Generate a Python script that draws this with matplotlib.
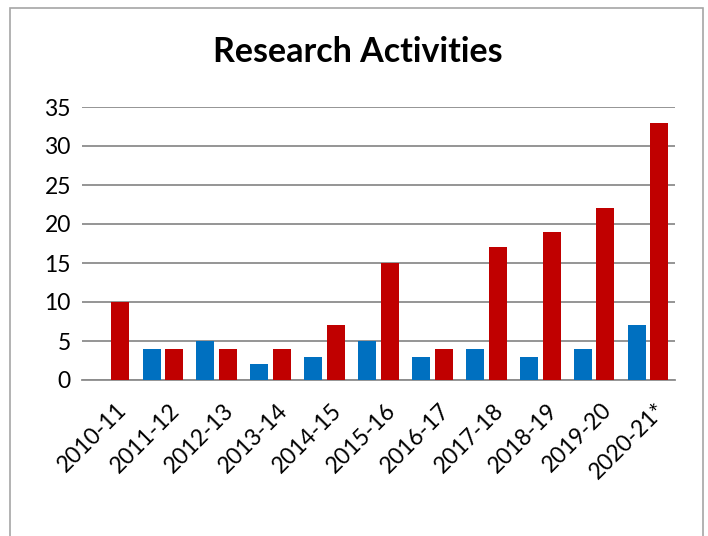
import matplotlib
matplotlib.use("Agg")
import matplotlib.pyplot as plt
import numpy as np
from matplotlib.patches import Rectangle

plt.rcParams['font.family'] = ['Lato', 'DejaVu Sans']

categories = ["2010-11", "2011-12", "2012-13", "2013-14", "2014-15", "2015-16",
              "2016-17", "2017-18", "2018-19", "2019-20", "2020-21*"]
blue_values = [0, 4, 5, 2, 3, 5, 3, 4, 3, 4, 7]
red_values = [10, 4, 4, 4, 7, 15, 4, 17, 19, 22, 33]
yticks = [0, 5, 10, 15, 20, 25, 30, 35]

W, H = 708, 536
fig = plt.figure(figsize=(W / 100, H / 100), dpi=100)
fig.patch.set_facecolor('white')

# outer chart frame (bottom edge beyond image)
fig.patches.append(Rectangle((10 / W, -0.05), (703 - 10) / W, 1.05 - 8 / H,
                             transform=fig.transFigure, fill=False,
                             edgecolor='#A6A6A6', linewidth=1.2))

left, right = 82 / W, 675 / W
bottom, top = (H - 380) / H, (H - 107) / H
ax = fig.add_axes([left, bottom, right - left, top - bottom])

x = np.arange(len(categories))
bw = 0.335
off = 0.21
ax.bar(x - off, blue_values, width=bw, color='#0070C0', zorder=3)
ax.bar(x + off, red_values, width=bw, color='#C00000', zorder=3)

ax.set_xlim(-0.5, len(categories) - 0.5)
ax.set_ylim(0, 35)
ax.set_yticks(yticks)
ax.set_yticklabels([str(v) for v in yticks], fontsize=16.5)
ax.yaxis.grid(True, color='#8C8C8C', linewidth=1.3, zorder=0)
ax.set_axisbelow(True)
for s in ['top', 'right', 'left']:
    ax.spines[s].set_visible(False)
ax.spines['bottom'].set_color('#8C8C8C')
ax.spines['bottom'].set_linewidth(1.3)
ax.tick_params(axis='y', length=0, pad=8)
ax.tick_params(axis='x', length=0, pad=14)

ax.set_xticks(x + 0.12)
ax.set_xticklabels(categories, rotation=45, ha='right', va='top',
                   rotation_mode='anchor', fontsize=16.5)

fig.text(358 / W, 1 - 52 / H, "Research Activities", ha='center', va='center',
         fontsize=24.5, fontweight='bold')

fig.savefig("out.png", dpi=100, facecolor='white')
